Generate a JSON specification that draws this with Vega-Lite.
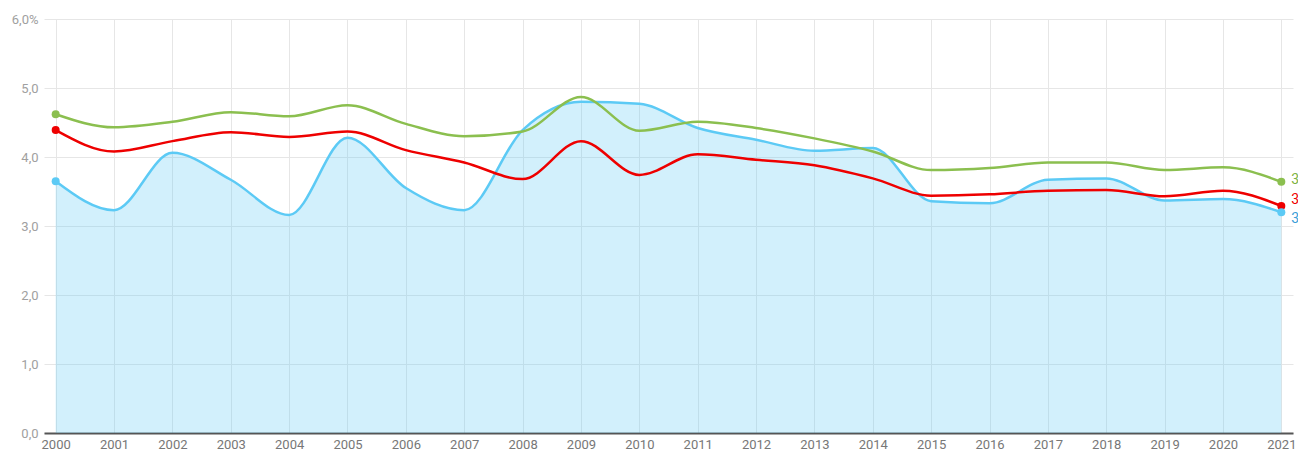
{
  "$schema": "https://vega.github.io/schema/vega-lite/v6.json",
  "width": 1249,
  "height": 414,
  "autosize": {"type": "none"},
  "padding": {"left": 44, "top": 19, "right": 5, "bottom": 21},
  "background": "white",
  "config": {
    "view": {"stroke": null},
    "font": "Roboto",
    "axis": {"labelFont": "Roboto", "gridColor": "#e6e6e6", "gridWidth": 1}
  },
  "datasets": {
    "rows": [
      {"year": "2000", "series": "Grün", "value": 4.62}, {"year": "2001", "series": "Grün", "value": 4.43}, {"year": "2002", "series": "Grün", "value": 4.51}, {"year": "2003", "series": "Grün", "value": 4.65}, {"year": "2004", "series": "Grün", "value": 4.59}, {"year": "2005", "series": "Grün", "value": 4.75}, {"year": "2006", "series": "Grün", "value": 4.48}, {"year": "2007", "series": "Grün", "value": 4.30}, {"year": "2008", "series": "Grün", "value": 4.37}, {"year": "2009", "series": "Grün", "value": 4.87}, {"year": "2010", "series": "Grün", "value": 4.38}, {"year": "2011", "series": "Grün", "value": 4.51}, {"year": "2012", "series": "Grün", "value": 4.42}, {"year": "2013", "series": "Grün", "value": 4.27}, {"year": "2014", "series": "Grün", "value": 4.08}, {"year": "2015", "series": "Grün", "value": 3.81}, {"year": "2016", "series": "Grün", "value": 3.84}, {"year": "2017", "series": "Grün", "value": 3.92}, {"year": "2018", "series": "Grün", "value": 3.92}, {"year": "2019", "series": "Grün", "value": 3.81}, {"year": "2020", "series": "Grün", "value": 3.85}, {"year": "2021", "series": "Grün", "value": 3.64},
      {"year": "2000", "series": "Rot", "value": 4.39}, {"year": "2001", "series": "Rot", "value": 4.08}, {"year": "2002", "series": "Rot", "value": 4.23}, {"year": "2003", "series": "Rot", "value": 4.36}, {"year": "2004", "series": "Rot", "value": 4.29}, {"year": "2005", "series": "Rot", "value": 4.37}, {"year": "2006", "series": "Rot", "value": 4.10}, {"year": "2007", "series": "Rot", "value": 3.92}, {"year": "2008", "series": "Rot", "value": 3.68}, {"year": "2009", "series": "Rot", "value": 4.23}, {"year": "2010", "series": "Rot", "value": 3.74}, {"year": "2011", "series": "Rot", "value": 4.04}, {"year": "2012", "series": "Rot", "value": 3.96}, {"year": "2013", "series": "Rot", "value": 3.88}, {"year": "2014", "series": "Rot", "value": 3.69}, {"year": "2015", "series": "Rot", "value": 3.44}, {"year": "2016", "series": "Rot", "value": 3.46}, {"year": "2017", "series": "Rot", "value": 3.51}, {"year": "2018", "series": "Rot", "value": 3.52}, {"year": "2019", "series": "Rot", "value": 3.43}, {"year": "2020", "series": "Rot", "value": 3.51}, {"year": "2021", "series": "Rot", "value": 3.29},
      {"year": "2000", "series": "Blau", "value": 3.65}, {"year": "2001", "series": "Blau", "value": 3.23}, {"year": "2002", "series": "Blau", "value": 4.06}, {"year": "2003", "series": "Blau", "value": 3.67}, {"year": "2004", "series": "Blau", "value": 3.16}, {"year": "2005", "series": "Blau", "value": 4.28}, {"year": "2006", "series": "Blau", "value": 3.55}, {"year": "2007", "series": "Blau", "value": 3.23}, {"year": "2008", "series": "Blau", "value": 4.39}, {"year": "2009", "series": "Blau", "value": 4.80}, {"year": "2010", "series": "Blau", "value": 4.77}, {"year": "2011", "series": "Blau", "value": 4.42}, {"year": "2012", "series": "Blau", "value": 4.25}, {"year": "2013", "series": "Blau", "value": 4.09}, {"year": "2014", "series": "Blau", "value": 4.13}, {"year": "2015", "series": "Blau", "value": 3.36}, {"year": "2016", "series": "Blau", "value": 3.33}, {"year": "2017", "series": "Blau", "value": 3.67}, {"year": "2018", "series": "Blau", "value": 3.69}, {"year": "2019", "series": "Blau", "value": 3.37}, {"year": "2020", "series": "Blau", "value": 3.39}, {"year": "2021", "series": "Blau", "value": 3.20}
    ]
  },
  "data": {"name": "rows"},
  "encoding": {
    "x": {
      "field": "year", "type": "ordinal",
      "scale": {"type": "point", "padding": 0.2},
      "axis": {
        "title": null, "labelAngle": 0, "labelColor": "#777777", "labelFontSize": 13,
        "labelPadding": 5, "ticks": false, "domainColor": "#555555", "domainWidth": 2,
        "grid": true, "zindex": 0
      }
    },
    "y": {
      "field": "value", "type": "quantitative",
      "scale": {"domain": [0, 6], "nice": false},
      "axis": {
        "title": null, "values": [0, 1, 2, 3, 4, 5, 6], "domain": false, "ticks": false,
        "labelColor": "#a0a0a0", "labelFontSize": 13, "labelPadding": 6,
        "labelExpr": "datum.value == 6 ? '6,0%' : replace(format(datum.value, '.1f'), '.', ',')"
      }
    },
    "color": {
      "field": "series", "type": "nominal", "legend": null,
      "scale": {"domain": ["Grün", "Rot", "Blau"], "range": ["#8bbf4f", "#ee0000", "#5ccaf5"]}
    }
  },
  "layer": [
    {
      "transform": [{"filter": "datum.series == 'Blau'"}],
      "mark": {"type": "area", "interpolate": "monotone", "color": "#5ccaf5", "opacity": 0.28},
      "encoding": {"color": {"value": "#5ccaf5"}}
    },
    {
      "transform": [{"filter": "datum.series == 'Blau'"}],
      "mark": {"type": "line", "interpolate": "monotone", "strokeWidth": 2.5}
    },
    {
      "transform": [{"filter": "datum.series == 'Grün'"}],
      "mark": {"type": "line", "interpolate": "monotone", "strokeWidth": 2.5}
    },
    {
      "transform": [{"filter": "datum.series == 'Rot'"}],
      "mark": {"type": "line", "interpolate": "monotone", "strokeWidth": 2.5}
    },
    {
      "transform": [{"filter": "datum.year == '2000' || datum.year == '2021'"}],
      "mark": {"type": "circle", "size": 64, "opacity": 1}
    },
    {
      "transform": [{"filter": "datum.year == '2021' && datum.series == 'Grün'"}],
      "mark": {"type": "text", "align": "left", "baseline": "middle", "dx": 10, "dy": -2, "fontSize": 14},
      "encoding": {"text": {"field": "value", "type": "quantitative", "format": ".1f"}, "color": {"value": "#7cb342"}}
    },
    {
      "transform": [{"filter": "datum.year == '2021' && datum.series == 'Rot'"}],
      "mark": {"type": "text", "align": "left", "baseline": "middle", "dx": 10, "dy": -6, "fontSize": 14},
      "encoding": {"text": {"field": "value", "type": "quantitative", "format": ".1f"}, "color": {"value": "#ee0000"}}
    },
    {
      "transform": [{"filter": "datum.year == '2021' && datum.series == 'Blau'"}],
      "mark": {"type": "text", "align": "left", "baseline": "middle", "dx": 10, "dy": 7, "fontSize": 14},
      "encoding": {"text": {"field": "value", "type": "quantitative", "format": ".1f"}, "color": {"value": "#3a9ed8"}}
    }
  ]
}
